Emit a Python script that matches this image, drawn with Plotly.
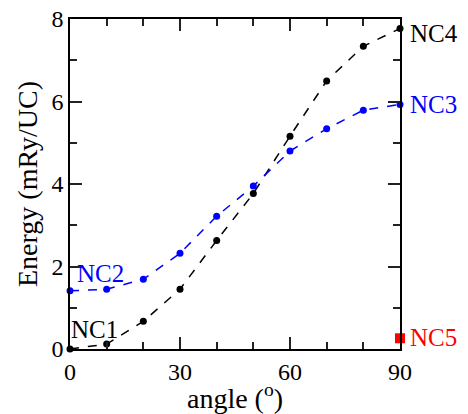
import plotly.graph_objects as go

angles = [0, 10, 20, 30, 40, 50, 60, 70, 80, 90]
energy_black = [0.0, 0.12, 0.67, 1.45, 2.63, 3.77, 5.16, 6.5, 7.34, 7.77]
energy_blue = [1.41, 1.45, 1.69, 2.32, 3.22, 3.95, 4.8, 5.34, 5.79, 5.93]
nc5_angle = [90]
nc5_energy = [0.26]

FONT = "Liberation Serif"
FS_TICK = 24
FS_TITLE = 28
FS_LAB = 25
TICKC = "#222222"
TW = 2

fig = go.Figure()
fig.add_trace(go.Scatter(x=angles, y=energy_black, mode="lines+markers",
                         line=dict(color="black", dash="dash", width=1.5),
                         marker=dict(color="black", size=7), cliponaxis=False))
fig.add_trace(go.Scatter(x=angles, y=energy_blue, mode="lines+markers",
                         line=dict(color="blue", dash="dash", width=1.5),
                         marker=dict(color="blue", size=7), cliponaxis=False))
fig.add_trace(go.Scatter(x=nc5_angle, y=nc5_energy, mode="markers",
                         marker=dict(color="red", size=10, symbol="square"),
                         cliponaxis=False))
# invisible trace hosting the top/right axes (whose mirror gives bottom/left ticks)
fig.add_trace(go.Scatter(x=nc5_angle, y=nc5_energy, xaxis="x2", yaxis="y2",
                         mode="markers", marker=dict(opacity=0), hoverinfo="skip"))

labels = [
    ("NC4", 90, 7.77, "black", "left", 8, -5),
    ("NC3", 90, 5.93, "blue", "left", 8, 0),
    ("NC5", 90, 0.26, "red", "left", 8, 1),
]
for t, x, y, c, xa, xs, ys in labels:
    fig.add_annotation(x=x, y=y, text=t, showarrow=False, xanchor=xa,
                       xshift=xs, yshift=ys, font=dict(family=FONT, size=FS_LAB, color=c))
fig.add_annotation(x=8.3, y=1.84, text="NC2", showarrow=False,
                   font=dict(family=FONT, size=FS_LAB, color="blue"))
fig.add_annotation(x=6.8, y=0.48, text="NC1", showarrow=False,
                   font=dict(family=FONT, size=FS_LAB, color="black"))

common = dict(ticks="inside", ticklen=12, tickwidth=TW, tickcolor=TICKC,
              showline=True, linecolor="black", linewidth=1.5, mirror="ticks",
              showgrid=False, zeroline=False, automargin=False)
xminor = dict(dtick=10, ticks="inside", ticklen=7, tickwidth=TW, tickcolor=TICKC, showgrid=False)
yminor = dict(dtick=1, ticks="inside", ticklen=7, tickwidth=TW, tickcolor=TICKC, showgrid=False)

# page body has an 8px margin, so the figure is offset by 8px
fig.update_layout(
    width=460, height=406,
    margin=dict(l=62, r=68, t=11, b=65),
    plot_bgcolor="white", paper_bgcolor="white",
    showlegend=False,
    font=dict(family=FONT, size=FS_TICK, color="black"),
    xaxis=dict(range=[0, 90], tick0=0, dtick=30, minor=xminor,
               ticklabeloverflow="allow",
               title=dict(text="angle (<sup>o</sup>)", standoff=4,
                          font=dict(family=FONT, size=FS_TITLE)),
               tickfont=dict(family=FONT, size=FS_TICK), **common),
    yaxis=dict(range=[0, 8], tick0=0, dtick=2, minor=yminor,
               ticklabeloverflow="allow",
               title=dict(text="Energy (mRy/UC)", standoff=6,
                          font=dict(family=FONT, size=FS_TITLE)),
               tickfont=dict(family=FONT, size=FS_TICK), **common),
    xaxis2=dict(range=[0, 90], tick0=0, dtick=30, minor=xminor,
                showticklabels=False, overlaying="x", side="top", **common),
    yaxis2=dict(range=[0, 8], tick0=0, dtick=2, minor=yminor,
                showticklabels=False, overlaying="y", side="right", **common),
)

fig.write_html("out.html")
